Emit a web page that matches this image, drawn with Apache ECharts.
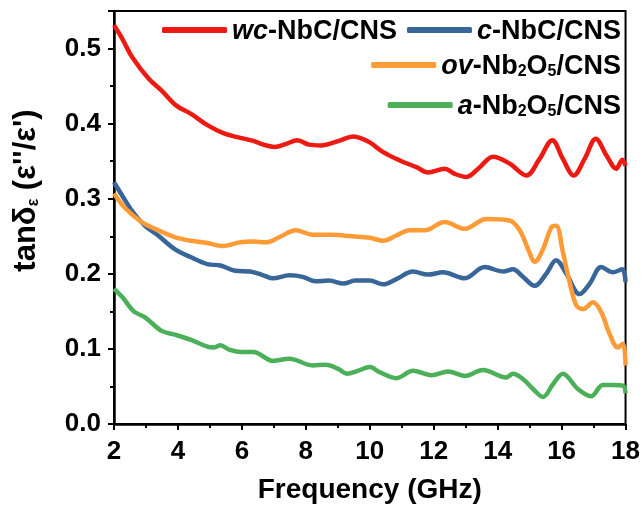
<!DOCTYPE html>
<html>
<head>
<meta charset="utf-8">
<script src="https://cdn.jsdelivr.net/npm/echarts@6/dist/echarts.min.js"></script>
<style>
html,body{margin:0;padding:0;background:#fff;}
#chart{width:643px;height:509px;}
</style>
</head>
<body>
<div id="chart"></div>
<script>
// ---- data ----
const seriesNames = ['wc-NbC/CNS', 'c-NbC/CNS', 'ov-Nb2O5/CNS', 'a-Nb2O5/CNS'];

const wcFreq = [2,2.26,2.56,3.08,3.49,3.95,4.41,4.92,5.44,5.95,6.36,6.67,7.03,7.38,7.74,8.1,8.46,9.03,9.49,9.69,10.0,10.42,10.94,11.46,11.82,12.34,12.66,13.02,13.44,13.85,14.37,14.9,15.31,15.71,16.04,16.38,16.72,17.07,17.4,17.71,17.9,18];
const wcVal  = [0.531,0.513,0.489,0.46,0.444,0.424,0.413,0.398,0.387,0.381,0.377,0.372,0.369,0.373,0.378,0.372,0.371,0.377,0.383,0.381,0.375,0.362,0.351,0.342,0.335,0.34,0.333,0.329,0.342,0.356,0.347,0.331,0.353,0.378,0.353,0.331,0.353,0.38,0.358,0.34,0.352,0.344];

const cFreq = [2,2.26,2.56,2.97,3.38,3.9,4.41,4.92,5.33,5.79,6.26,6.67,6.97,7.49,7.9,8.31,8.72,9.18,9.54,10.0,10.42,10.83,11.35,11.82,12.29,12.97,13.59,14.17,14.48,14.79,15.16,15.52,15.83,16.15,16.56,16.88,17.24,17.6,17.9,18];
const cVal  = [0.322,0.304,0.284,0.264,0.251,0.233,0.222,0.213,0.211,0.204,0.203,0.198,0.194,0.198,0.196,0.19,0.191,0.187,0.191,0.191,0.186,0.193,0.203,0.199,0.202,0.194,0.209,0.203,0.206,0.196,0.184,0.2,0.218,0.2,0.173,0.187,0.209,0.202,0.206,0.189];

const ovFreq = [2,2.36,2.87,3.38,3.9,4.41,4.92,5.38,5.95,6.36,6.77,7.18,7.69,8.21,8.82,9.44,10.0,10.42,10.83,11.25,11.72,12.34,12.97,13.65,14.37,14.69,14.95,15.16,15.42,15.68,15.83,16.04,16.25,16.46,16.67,16.98,17.24,17.5,17.76,17.92,18];
const ovVal  = [0.307,0.287,0.269,0.258,0.249,0.244,0.241,0.237,0.242,0.243,0.242,0.249,0.258,0.252,0.252,0.25,0.248,0.244,0.251,0.258,0.258,0.269,0.26,0.273,0.271,0.258,0.233,0.216,0.233,0.262,0.264,0.229,0.189,0.158,0.153,0.162,0.149,0.12,0.102,0.107,0.078];

const aFreq = [2,2.26,2.62,2.97,3.49,3.9,4.41,4.92,5.13,5.33,5.6,5.95,6.36,6.97,7.49,8.21,8.62,9.03,9.28,9.64,10.0,10.31,10.83,11.35,11.93,12.45,12.97,13.54,14.27,14.48,14.79,15.1,15.42,15.73,16.04,16.5,16.92,17.29,17.6,17.92,18];
const aVal  = [0.18,0.169,0.15,0.142,0.124,0.119,0.112,0.103,0.102,0.105,0.099,0.096,0.096,0.084,0.087,0.078,0.079,0.073,0.067,0.071,0.076,0.069,0.061,0.071,0.065,0.07,0.064,0.072,0.062,0.067,0.06,0.047,0.036,0.053,0.067,0.047,0.037,0.052,0.052,0.051,0.041];

const xTicks = [2,4,6,8,10,12,14,16,18];
const yTicks = [0.0,0.1,0.2,0.3,0.4,0.5];

// ---- chart ----
const colors = ['#ec1a12', '#386699', '#ff9b36', '#4caf5a'];
const FONT = '"Liberation Sans", Arial, sans-serif';
const pairs = (f, v) => f.map((x, i) => [x, v[i]]);
const allData = [pairs(wcFreq, wcVal), pairs(cFreq, cVal), pairs(ovFreq, ovVal), pairs(aFreq, aVal)];

const legendRich = {
  i: {fontFamily: FONT, fontWeight: 'bold', fontStyle: 'italic', fontSize: 27, color: '#000', verticalAlign: 'bottom', lineHeight: 30},
  n: {fontFamily: FONT, fontWeight: 'bold', fontSize: 27, color: '#000', verticalAlign: 'bottom', lineHeight: 30},
  s: {fontFamily: FONT, fontWeight: 'bold', fontSize: 16, color: '#000', verticalAlign: 'bottom', lineHeight: 12}
};
const legendLabels = {
  'wc-NbC/CNS': '{i|wc}{n|-NbC/CNS}',
  'c-NbC/CNS': '{i|c}{n|-NbC/CNS}',
  'ov-Nb2O5/CNS': '{i|ov}{n|-Nb}{s|2}{n|O}{s|5}{n|/CNS}',
  'a-Nb2O5/CNS': '{i|a}{n|-Nb}{s|2}{n|O}{s|5}{n|/CNS}'
};
function mkLegend(data, top) {
  return {
    data: data, top: top, right: 22, orient: 'horizontal', padding: 0,
    itemWidth: 65, itemHeight: 6, itemGap: 10, icon: 'roundRect',
    formatter: n => legendLabels[n],
    textStyle: {rich: legendRich}
  };
}

const chart = echarts.init(document.getElementById('chart'), null, {renderer: 'canvas'});
chart.setOption({
  animation: false,
  backgroundColor: '#fff',
  color: colors,
  grid: {left: 114, right: 13, top: 11, bottom: 84, show: true, borderColor: '#000', borderWidth: 2, backgroundColor: 'transparent'},
  legend: [
    mkLegend([seriesNames[0], seriesNames[1]], 18),
    mkLegend([seriesNames[2]], 53),
    mkLegend([seriesNames[3]], 93)
  ],
  xAxis: {
    type: 'value', min: xTicks[0], max: xTicks[xTicks.length - 1], interval: 2,
    name: 'Frequency (GHz)', nameLocation: 'middle', nameGap: 52,
    nameTextStyle: {fontFamily: FONT, fontWeight: 'bold', fontSize: 28, color: '#000'},
    axisLine: {lineStyle: {color: '#000', width: 2.5}},
    axisTick: {inside: false, length: 6, lineStyle: {color: '#000', width: 2}},
    minorTick: {show: true, splitNumber: 2, length: 4, lineStyle: {color: '#000', width: 2}},
    splitLine: {show: false},
    axisLabel: {fontFamily: FONT, fontWeight: 'bold', fontSize: 26, color: '#000', margin: 15}
  },
  yAxis: {
    type: 'value', min: 0, max: 0.55, interval: 0.1,
    name: '{a|tanδ}{s|ε}{a| (ε\'\'/ε\')}', nameLocation: 'middle', nameGap: 72, nameRotate: 90,
    nameTextStyle: {padding: [0, 0, 0, 54], rich: {
      a: {fontFamily: FONT, fontWeight: 'bold', fontSize: 31, color: '#000', verticalAlign: 'bottom', lineHeight: 34},
      s: {fontFamily: FONT, fontWeight: 'bold', fontSize: 16, color: '#000', verticalAlign: 'bottom', lineHeight: 12}
    }},
    axisLine: {lineStyle: {color: '#000', width: 2.5}},
    axisTick: {inside: false, length: 6, lineStyle: {color: '#000', width: 2}},
    minorTick: {show: true, splitNumber: 2, length: 4, lineStyle: {color: '#000', width: 2}},
    splitLine: {show: false},
    axisLabel: {fontFamily: FONT, fontWeight: 'bold', fontSize: 26, color: '#000', margin: 13, showMaxLabel: false,
      formatter: v => (yTicks.some(t => Math.abs(t - v) < 1e-9) ? v.toFixed(1) : '')}
  },
  series: seriesNames.map((n, i) => ({
    name: n, type: 'line', data: allData[i], smooth: 0.35, showSymbol: false, symbol: 'none',
    lineStyle: {width: 4.5, color: colors[i]}, itemStyle: {color: colors[i]}
  }))
});
</script>
</body>
</html>
